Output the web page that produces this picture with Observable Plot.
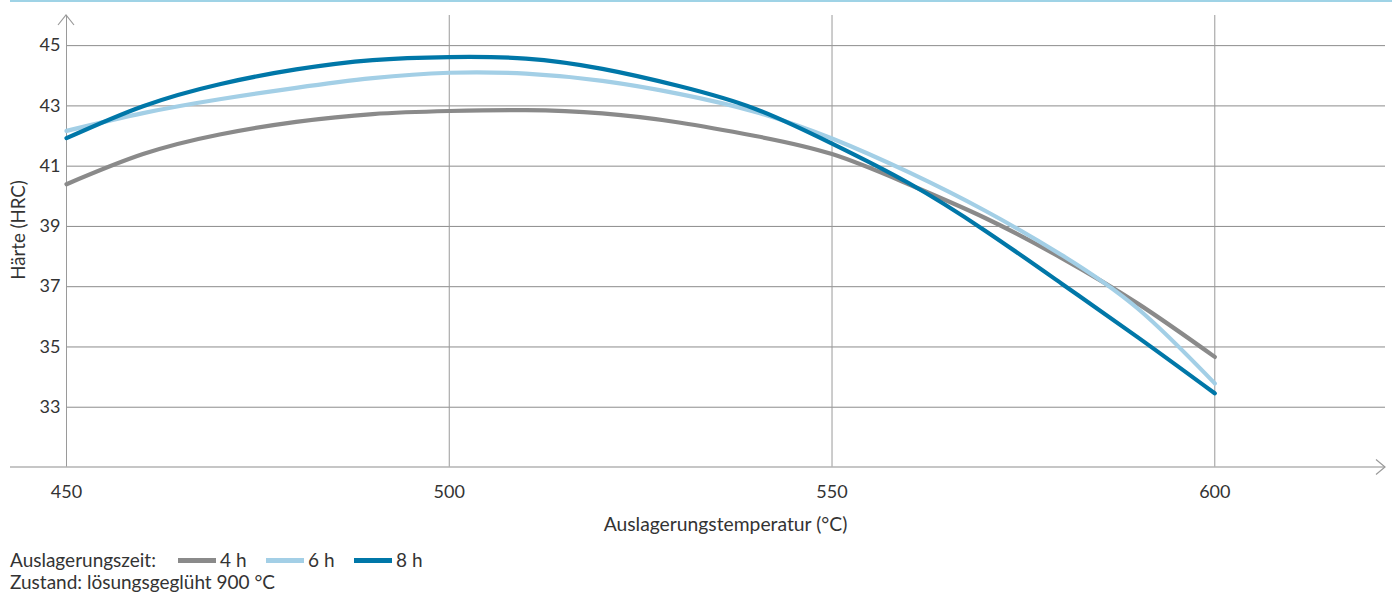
<!DOCTYPE html>
<html><head><meta charset="utf-8">
<script src="https://cdn.jsdelivr.net/npm/d3@7"></script>
<script src="https://cdn.jsdelivr.net/npm/@observablehq/plot@0.6"></script>
<style>
body{margin:0;background:#fff;font-family:Lato,sans-serif;color:#333;width:1392px;height:594px;position:relative;overflow:hidden}
#topline{position:absolute;left:10px;right:0;top:0;height:2px;background:#9fd3e6}
#chart{position:absolute;left:0;top:0}
.leg{position:absolute;left:10px;line-height:20px;white-space:nowrap;display:flex;align-items:center;font-size:19px}
.sw{display:inline-block;width:38px;height:5px;margin-right:4px;flex:none}
.it{display:inline-block;width:46px;flex:none}
.lt{display:inline-block;width:168px;flex:none}
</style></head><body>
<div id="chart"></div>
<div id="topline"></div>
<div class="leg" id="legend" style="top:550px"></div>
<div class="leg" id="caption" style="top:572px"></div>
<script>
const temps = [450, 460, 470, 480, 490, 500, 510, 520, 530, 540, 550, 560, 570, 580, 590, 600];
const h4 = [40.40, 41.40, 42.05, 42.47, 42.73, 42.83, 42.86, 42.75, 42.45, 42.00, 41.40, 40.40, 39.28, 37.95, 36.43, 34.67];
const h6 = [42.17, 42.76, 43.22, 43.60, 43.92, 44.10, 44.07, 43.83, 43.40, 42.80, 41.92, 40.80, 39.52, 38.05, 36.26, 33.79];
const h8 = [41.93, 42.99, 43.72, 44.21, 44.52, 44.62, 44.57, 44.23, 43.66, 42.90, 41.75, 40.44, 38.86, 37.10, 35.31, 33.46];
const seriesNames = ["4 h", "6 h", "8 h"];
const seriesColors = ["#8a8a8a", "#a3cfe6", "#0077a8"];
const yTicks = [33, 35, 37, 39, 41, 43, 45];
const xTicks = [450, 500, 550, 600];
const xTitle = "Auslagerungstemperatur (°C)";
const yTitle = "Härte (HRC)";
const legendTitle = "Auslagerungszeit:";
const captionText = "Zustand: lösungsgeglüht 900 °C";

const series = [h4, h6, h8];
const rows = [];
series.forEach((vals, i) => vals.forEach((v, j) => rows.push({t: temps[j], v, s: seriesNames[i]})));

const W = 1392, H = 540;
const chart = Plot.plot({
  width: W, height: H,
  marginLeft: 66, marginRight: 7, marginTop: 15, marginBottom: 73,
  style: {fontFamily: "Lato, sans-serif", fontSize: "18px", color: "#333", background: "transparent"},
  x: {domain: [450, 622.3], ticks: xTicks},
  y: {domain: [31, 46], ticks: yTicks},
  color: {domain: seriesNames, range: seriesColors},
  marks: [
    Plot.gridY(yTicks, {stroke: "#8c8c8c", strokeOpacity: 1, strokeWidth: 1}),
    Plot.gridX(xTicks, {stroke: "#9a9a9a", strokeOpacity: 1, strokeWidth: 1}),
    Plot.axisY(yTicks, {tickSize: 0, tickPadding: 6, label: null, fontSize: 18}),
    Plot.axisX(xTicks, {tickSize: 0, tickPadding: 18, label: null, fontSize: 18}),
    Plot.line(rows, {x: "t", y: "v", z: "s", stroke: "s", strokeWidth: 4.2, curve: "natural"})
  ]
});
document.getElementById("chart").appendChild(chart);

const svg = d3.select(chart);
const xs = chart.scale("x"), ys = chart.scale("y");
const x0 = xs.apply(450), xR = W - 7;
const yB = ys.apply(31), yT = ys.apply(46);
// x axis line with arrow
svg.append("line").attr("x1", 10).attr("x2", xR).attr("y1", yB).attr("y2", yB)
  .attr("stroke", "#b3b3b3").attr("stroke-width", 1.6);
svg.append("path").attr("d", `M${xR - 9},${yB - 7.5}L${xR},${yB}L${xR - 9},${yB + 7.5}`)
  .attr("fill", "none").attr("stroke", "#9a9a9a").attr("stroke-width", 1.2);
// y axis arrow
svg.append("path").attr("d", `M${x0 - 8},${yT + 10}L${x0},${yT}L${x0 + 8},${yT + 10}`)
  .attr("fill", "none").attr("stroke", "#9a9a9a").attr("stroke-width", 1.2);
// titles
svg.append("text").attr("x", (x0 + xR) / 2).attr("y", 531).attr("text-anchor", "middle")
  .attr("font-size", 19.3).attr("fill", "#333").text(xTitle);
svg.append("text").attr("transform", "translate(25,230) rotate(-90)").attr("text-anchor", "middle")
  .attr("font-size", 18.7).attr("fill", "#333").text(yTitle);

// legend
const leg = document.getElementById("legend");
const lt = document.createElement("span"); lt.className = "lt"; lt.textContent = legendTitle;
leg.appendChild(lt);
seriesNames.forEach((n, i) => {
  const sw = document.createElement("span"); sw.className = "sw"; sw.style.background = seriesColors[i];
  const tx = document.createElement("span"); tx.className = "it"; tx.textContent = n;
  leg.appendChild(sw); leg.appendChild(tx);
});
document.getElementById("caption").textContent = captionText;
</script>
</body></html>
